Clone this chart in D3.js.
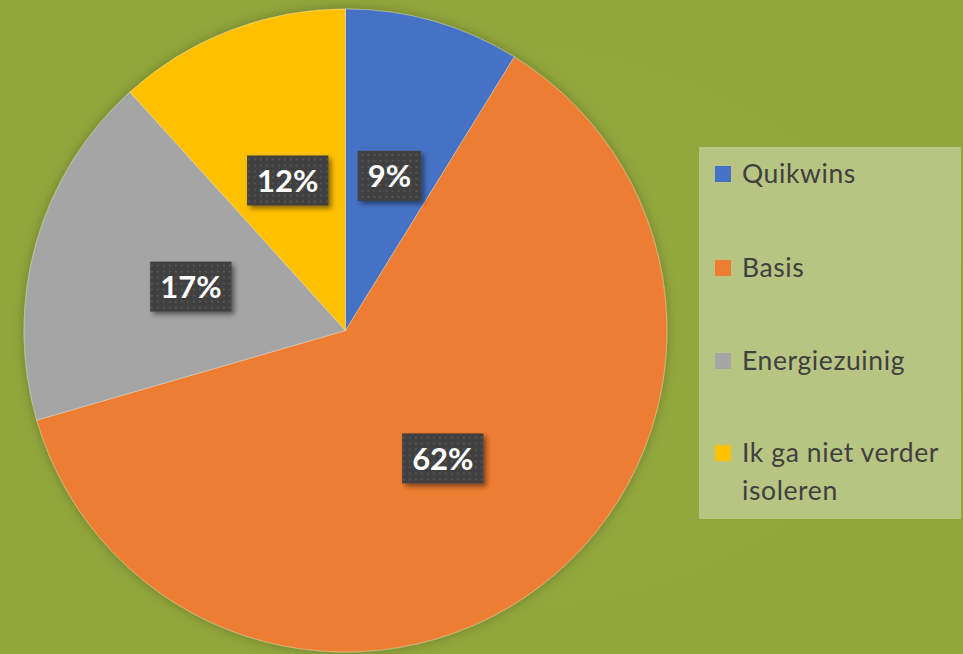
<!DOCTYPE html>
<html>
<head>
<meta charset="utf-8">
<script src="https://cdn.jsdelivr.net/npm/d3@7"></script>
<style>
  html, body { margin: 0; padding: 0; background: #93a63c; }
  svg { display: block; }
</style>
</head>
<body>
<svg id="chart" width="963" height="654"></svg>
<script>
const categories = ["Quikwins", "Basis", "Energiezuinig", "Ik ga niet verder isoleren"];
const values = [8.8, 61.7, 17.8, 11.7];
const valueLabels = ["9%", "62%", "17%", "12%"];
const colors = ["#4472c4", "#ed7d31", "#a5a5a5", "#ffc000"];
const legendLines = [["Quikwins"], ["Basis"], ["Energiezuinig"], ["Ik ga niet verder", "isoleren"]];

const W = 963, H = 654;
const svg = d3.select("#chart");
const defs = svg.append("defs");

// background vignette
const bg = defs.append("radialGradient").attr("id", "bg").attr("cx", "50%").attr("cy", "50%").attr("r", "75%");
bg.append("stop").attr("offset", "0%").attr("stop-color", "#95a83e");
bg.append("stop").attr("offset", "100%").attr("stop-color", "#92a53b");
svg.append("rect").attr("width", W).attr("height", H).attr("fill", "url(#bg)");

// shadows
const sh = defs.append("filter").attr("id", "pieShadow").attr("x", "-20%").attr("y", "-20%").attr("width", "140%").attr("height", "140%");
sh.append("feDropShadow").attr("dx", 0).attr("dy", 0).attr("stdDeviation", 6).attr("flood-color", "#000").attr("flood-opacity", 0.25);
const bs = defs.append("filter").attr("id", "boxShadow").attr("x", "-30%").attr("y", "-30%").attr("width", "170%").attr("height", "170%");
bs.append("feDropShadow").attr("dx", 3).attr("dy", 3).attr("stdDeviation", 2.5).attr("flood-color", "#000").attr("flood-opacity", 0.45);

// dotted pattern for label boxes
const pat = defs.append("pattern").attr("id", "dots").attr("patternUnits", "userSpaceOnUse").attr("width", 6).attr("height", 6);
pat.append("rect").attr("width", 6).attr("height", 6).attr("fill", "#404040");
pat.append("rect").attr("x", 2).attr("y", 2).attr("width", 2).attr("height", 2).attr("fill", "#555555");

const cx = 345.5, cy = 330.5, r = 321.5;
const pie = d3.pie().sort(null).value(d => d)(values);
const arc = d3.arc().innerRadius(0).outerRadius(r);
const labelArc = d3.arc().innerRadius(r * 0.5).outerRadius(r * 0.5);

const g = svg.append("g").attr("transform", `translate(${cx},${cy})`);
g.append("g").attr("filter", "url(#pieShadow)")
  .selectAll("path").data(pie).join("path")
  .attr("d", arc)
  .attr("fill", (d, i) => colors[i])
  .attr("stroke", "#ffffff").attr("stroke-opacity", 0.4).attr("stroke-width", 0.8);

const labels = g.selectAll("g.lbl").data(pie).join("g").attr("class", "lbl")
  .attr("transform", d => `translate(${labelArc.centroid(d)})`);
labels.each(function(d, i) {
  const sel = d3.select(this);
  const t = sel.append("text")
    .attr("text-anchor", "middle").attr("dy", "0.36em")
    .attr("font-family", "Lato, 'Open Sans', sans-serif").attr("font-weight", "bold")
    .attr("font-size", 31).attr("fill", "#ffffff")
    .text(valueLabels[i]);
  const bb = t.node().getBBox();
  const w = bb.width + 20, h = 50;
  sel.insert("rect", "text")
    .attr("x", -w / 2).attr("y", -h / 2).attr("width", w).attr("height", h)
    .attr("fill", "url(#dots)").attr("filter", "url(#boxShadow)");
});

// legend
const lg = svg.append("g");
lg.append("rect").attr("x", 699).attr("y", 147).attr("width", 262).attr("height", 372).attr("fill", "#b7c482");
const rowY = [174, 268, 361, 453];
legendLines.forEach((lines, i) => {
  lg.append("rect").attr("x", 715).attr("y", rowY[i] - 8).attr("width", 16).attr("height", 16).attr("fill", colors[i]);
  const t = lg.append("text").attr("x", 742).attr("y", rowY[i])
    .attr("font-family", "Lato, 'Open Sans', sans-serif").attr("font-size", 26.5)
    .attr("letter-spacing", 0.6).attr("fill", "#404040");
  lines.forEach((ln, j) => {
    t.append("tspan").attr("x", 742).attr("dy", j === 0 ? "0.35em" : 38).text(ln);
  });
});
</script>
</body>
</html>
